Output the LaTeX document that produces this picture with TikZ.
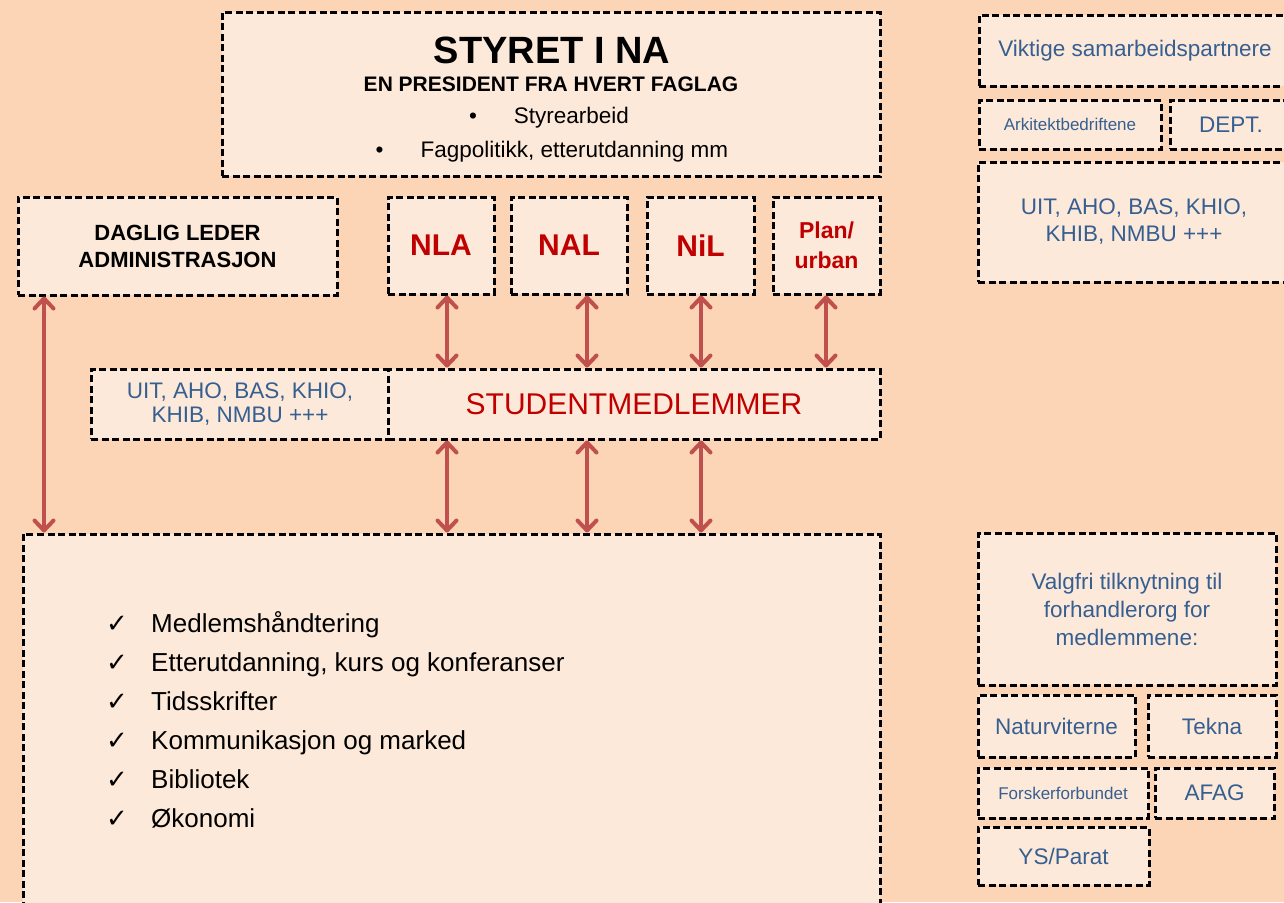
\documentclass[tikz,border=0pt]{standalone}
\usepackage{fontspec}
\setmainfont{Liberation Sans}
\newfontfamily\dejavu{DejaVu Sans}
\usetikzlibrary{arrows.meta}
\definecolor{bgpeach}{RGB}{251,213,181}
\definecolor{boxfill}{RGB}{253,233,217}
\definecolor{arrred}{RGB}{192,80,77}
\definecolor{txtred}{RGB}{192,0,0}
\definecolor{txtblue}{RGB}{54,95,145}
\newcommand{\fsz}[2]{\fontsize{#1}{#2}\selectfont}
\begin{document}
\begin{tikzpicture}[x=1pt,y=-1pt,
  dbox/.style={draw=black, fill=boxfill, line width=3pt, dash pattern=on 7pt off 3.5pt, inner sep=0pt, align=center},
  arr/.style={draw=arrred, line width=4pt, {Straight Barb[length=10pt,width=19pt,line width=4pt,round]}-{Straight Barb[length=10pt,width=19pt,line width=4pt,round]}},
  bluetxt/.style={text=txtblue, font=\fsz{22.5}{27}},
  redbig/.style={text=txtred, font=\bfseries\fsz{30}{34}},
  blacktxt/.style={text=black, inner sep=0pt},
  chktxt/.style={anchor=base west, inner sep=0pt, font=\fsz{26}{30}}
]
\useasboundingbox (0,0) rectangle (1284,902);
\fill[bgpeach] (0,0) rectangle (1284,902);
\clip (0,0) rectangle (1284,902);

% Board
\node[dbox, minimum width=658pt, minimum height=164pt] (styret) at (551,94) {};
\node[blacktxt, anchor=base, font=\bfseries\fsz{38}{42}] (styrettitle) at (552,63) {STYRET I NA};
\node[blacktxt, anchor=base, font=\bfseries\fsz{21}{24}] (styretsub) at (551,91) {EN PRESIDENT FRA HVERT FAGLAG};
\node[blacktxt, anchor=base, font=\fsz{22.5}{26}] (styretb1) at (549,123) {\textbullet\hspace{37pt}Styrearbeid};
\node[blacktxt, anchor=base, font=\fsz{22.5}{26}] (styretb2) at (552,157) {\textbullet\hspace{37pt}Fagpolitikk, etterutdanning mm};

% Second row
\node[dbox, minimum width=319pt, minimum height=98pt, font=\bfseries\fsz{22}{27}] (daglig) at (177.5,246) {DAGLIG LEDER\\ADMINISTRASJON};
\node[dbox, minimum width=106pt, minimum height=97pt, redbig] (nla) at (441,245.5) {NLA};
\node[dbox, minimum width=116pt, minimum height=97pt, redbig] (nal) at (569,245.5) {NAL};
\node[dbox, minimum width=107pt, minimum height=97pt, redbig] (nil) at (700.5,245.5) {NiL};
\node[dbox, minimum width=107pt, minimum height=97pt, text=txtred, font=\bfseries\fsz{23}{30}] (plan) at (826.5,245.5) {Plan/\\urban};

% Students
\node[dbox, minimum width=298pt, minimum height=70pt, bluetxt, font=\fsz{22.5}{24}] (uitl) at (240,404) {UIT, AHO, BAS, KHIO,\\KHIB, NMBU +++};
\node[dbox, minimum width=492pt, minimum height=70pt, text=txtred, font=\fsz{30}{34}] (stud) at (634,404) {STUDENTMEDLEMMER};

% Administration
\node[dbox, minimum width=857pt, minimum height=386pt] (bottom) at (451.5,727) {};
\foreach \t [count=\i] in {Medlemshåndtering,{Etterutdanning, kurs og konferanser},Tidsskrifter,{Kommunikasjon og marked},Bibliotek,Økonomi}{
  \node[chktxt, font=\dejavu\fsz{26}{30}] (chk\i) at (106,{593+39*\i}) {✓};
  \node[chktxt] (item\i) at (151,{593+39*\i}) {\t};
}

% Right column, partners
\node[dbox, minimum width=321pt, minimum height=71pt, bluetxt] (vikt) at (1139.5,50.5) {\hspace*{-9pt}Viktige samarbeidspartnere};
\node[dbox, minimum width=182pt, minimum height=49pt, text=txtblue, font=\fsz{17}{20}] (ark) at (1070,124.5) {Arkitektbedriftene};
\node[dbox, minimum width=130pt, minimum height=49pt, bluetxt] (dept) at (1235,124.5) {\hspace*{-8pt}DEPT.};
\node[dbox, minimum width=322pt, minimum height=120pt, bluetxt] (uitr) at (1139,222) {\hspace*{-10pt}UIT, AHO, BAS, KHIO,\\\hspace*{-10pt}KHIB, NMBU +++};

% Right column, unions
\node[dbox, minimum width=298pt, minimum height=152pt, bluetxt, font=\fsz{22.5}{28}] (valg) at (1127,609) {Valgfri tilknytning til\\forhandlerorg for\\medlemmene:};
\node[dbox, minimum width=157pt, minimum height=62pt, bluetxt] (natur) at (1056.5,726) {Naturviterne};
\node[dbox, minimum width=128pt, minimum height=62pt, bluetxt] (tekna) at (1212,726) {Tekna};
\node[dbox, minimum width=170pt, minimum height=50pt, text=txtblue, font=\fsz{17}{20}] (forsk) at (1063,793) {Forskerforbundet};
\node[dbox, minimum width=119pt, minimum height=50pt, bluetxt] (afag) at (1214.5,793) {AFAG};
\node[dbox, minimum width=171pt, minimum height=58pt, bluetxt] (ys) at (1063.5,856) {YS/Parat};

% Connectors
\coordinate (xa) at (44,0);
\coordinate (xb) at (447,0);
\coordinate (xc) at (587,0);
\coordinate (xd) at (701,0);
\coordinate (xe) at (826,0);
\draw[arr] (daglig.south -| xa) -- (bottom.north -| xa);
\draw[arr] (nla.south -| xb) -- (stud.north -| xb);
\draw[arr] (nal.south -| xc) -- (stud.north -| xc);
\draw[arr] (nil.south -| xd) -- (stud.north -| xd);
\draw[arr] (plan.south -| xe) -- (stud.north -| xe);
\draw[arr] (stud.south -| xb) -- (bottom.north -| xb);
\draw[arr] (stud.south -| xc) -- (bottom.north -| xc);
\draw[arr] (stud.south -| xd) -- (bottom.north -| xd);
\end{tikzpicture}
\end{document}
